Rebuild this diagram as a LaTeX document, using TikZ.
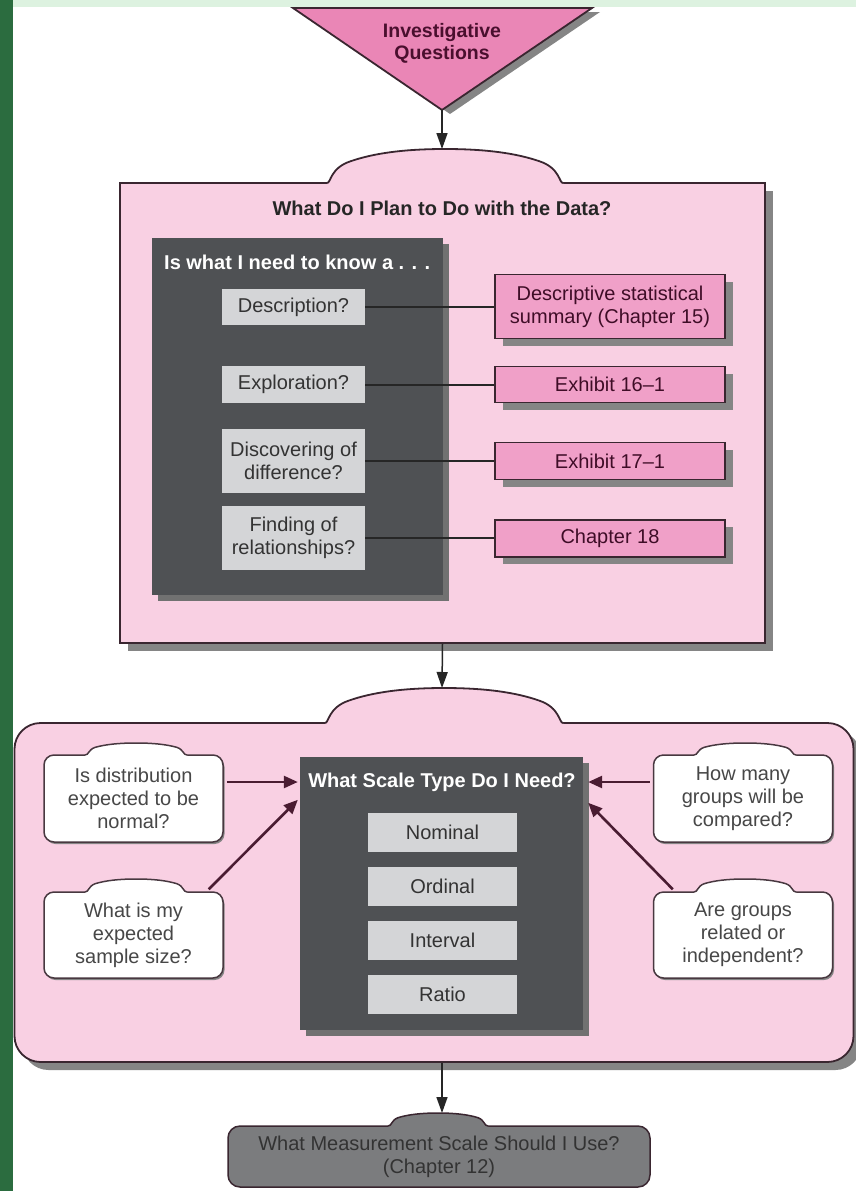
\documentclass[tikz,border=0pt]{standalone}
\usepackage{fontspec}
\setmainfont{Liberation Sans}
\usetikzlibrary{arrows.meta,shadows,calc}
\definecolor{lgreen}{HTML}{DDF2E0}
\definecolor{dgreen}{HTML}{2B6C3F}
\definecolor{tripink}{HTML}{EA86B6}
\definecolor{lpink}{HTML}{F9D0E3}
\definecolor{mpink}{HTML}{F0A0C8}
\definecolor{darkbox}{HTML}{4F5154}
\definecolor{lgray}{HTML}{D4D5D7}
\definecolor{bord}{HTML}{3A2630}
\definecolor{shadc}{HTML}{858585}
\definecolor{maroon}{HTML}{4A1C32}
\definecolor{botgray}{HTML}{7B7C7E}
\definecolor{txtdark}{HTML}{333333}
\definecolor{txtmar}{HTML}{4A0F2E}
% hump: [fill]{L}{R}{B}{T}
\newcommand\humppath[4]{({#1},{#3}) .. controls ({#1+4},{#3}) and ({#1+3},{#3-0.44*(#3-#4)}) .. ({#1+0.1*(#2-#1)},{#3-0.64*(#3-#4)}) .. controls ({#1+0.2*(#2-#1)},{#4+0.12*(#3-#4)}) and ({#1+0.33*(#2-#1)},{#4}) .. ({#1+0.5*(#2-#1)},{#4}) .. controls ({#2-0.33*(#2-#1)},{#4}) and ({#2-0.2*(#2-#1)},{#4+0.12*(#3-#4)}) .. ({#2-0.1*(#2-#1)},{#3-0.64*(#3-#4)}) .. controls ({#2-3},{#3-0.44*(#3-#4)}) and ({#2-4},{#3}) .. ({#2},{#3})}
\newcommand\hump[5][]{%
  \fill[#1] ({#2},{#4+1.4}) -- \humppath{#2}{#3}{#4}{#5} -- ({#3},{#4+1.4}) -- cycle;
  \draw[bordline] \humppath{#2}{#3}{#4}{#5};}
\begin{document}
\begin{tikzpicture}[x=1pt,y=-1pt,
  every node/.style={font=\fontsize{20}{23}\selectfont, align=center, inner sep=0pt},
  bordline/.style={draw=bord, line width=1.8pt},
  bigbox/.style={draw=bord, line width=1.8pt, fill=lpink, drop shadow={shadow xshift=8pt, shadow yshift=-8pt, fill=shadc, opacity=1}},
  darkb/.style={fill=darkbox, drop shadow={shadow xshift=6pt, shadow yshift=-6pt, fill=shadc!85!black, opacity=1}},
  qbox/.style={fill=lgray, text=txtdark, minimum width=143pt},
  pbox/.style={fill=mpink, draw=bord, line width=1.8pt, text=txtmar!85!black, minimum width=230pt, drop shadow={shadow xshift=8pt, shadow yshift=-7pt, fill=shadc, opacity=1}},
  sbox/.style={fill=lgray, text=txtdark, minimum width=149pt, minimum height=39pt},
  cloudb/.style={fill=white, draw=bord!80!gray, line width=1.5pt, rounded corners=10pt, minimum width=179pt, minimum height=87pt, text=black!72, drop shadow={shadow xshift=1.5pt, shadow yshift=-2pt, fill=shadc, opacity=1}},
  varr/.style={draw=black!85, line width=1.5pt, -{Triangle[length=16pt,width=11pt]}},
  sarr/.style={draw=maroon, line width=2.6pt, -{Triangle[length=14pt,width=12pt]}},
  link/.style={draw=black!85, line width=2pt},
  boldt/.style={font=\fontsize{20}{23}\selectfont\bfseries}
]
\useasboundingbox (0,0) rectangle (856,1191);
\fill[white] (0,0) rectangle (856,1191);

% triangle
\coordinate (apex) at (442,110);
\draw[bordline, fill=tripink, drop shadow={shadow xshift=8pt, shadow yshift=-4pt, fill=shadc, opacity=1}] (293,8) -- (592,8) -- (apex) -- cycle;
\node[font=\fontsize{19.5}{22}\selectfont\bfseries, text=txtmar] (iq) at (442,43) {Investigative\\Questions};

% box 1
\node[bigbox, minimum width=645pt, minimum height=460pt] (box1) at (442.5,413) {};
\hump[lpink]{327}{563}{183}{149}
\coordinate (b1top) at (442,149);
\draw[varr] (apex) -- (b1top);
\node[boldt, text=black!85] (t1) at (442,208) {What Do I Plan to Do with the Data?};
\node[darkb, minimum width=291pt, minimum height=357pt] (dark1) at (297.5,416.5) {};
\node[boldt, text=white, anchor=west] (know) at (164,262) {Is what I need to know a . . .};
\node[qbox, minimum height=36pt] (desc) at (293.5,307) {Description?};
\node[qbox, minimum height=37pt] (expl) at (293.5,384.5) {Exploration?};
\node[qbox, minimum height=64pt] (disc) at (293.5,460.5) {Discovering of\\difference?};
\node[qbox, minimum height=64pt] (find) at (293.5,538) {Finding of\\relationships?};
\node[pbox, minimum height=64pt] (p1) at (610,306.5) {Descriptive statistical\\summary (Chapter 15)};
\node[pbox, minimum height=36pt] (p2) at (610,384.5) {Exhibit 16–1};
\node[pbox, minimum height=37pt] (p3) at (610,461) {Exhibit 17–1};
\node[pbox, minimum height=37pt] (p4) at (610,538.5) {Chapter 18};
\draw[link] (desc.east) -- (desc.east -| p1.west);
\draw[link] (expl.east) -- (expl.east -| p2.west);
\draw[link] (disc.east) -- (disc.east -| p3.west);
\draw[link] (find.east) -- (find.east -| p4.west);

% box 2
\node[bigbox, rounded corners=26pt, minimum width=839pt, minimum height=339pt] (box2) at (434,892.5) {};
\hump[lpink]{325}{563}{723}{688}
\coordinate (b2top) at (442,688);
\draw[varr] (box1.south) -- (b2top);
\node[darkb, minimum width=283pt, minimum height=273pt] (dark2) at (441.5,893.5) {};
\node[boldt, text=white] (t2) at (442,782) {What Scale Type Do I Need?};
\node[sbox] (nom) at (442.5,832.5) {Nominal};
\node[sbox] (ord) at (442.5,886.5) {Ordinal};
\node[sbox] (int) at (442.5,940.5) {Interval};
\node[sbox] (rat) at (442.5,994.5) {Ratio};

\node[cloudb] (c1) at (133.5,798.5) {Is distribution\\expected to be\\normal?};
\node[cloudb, minimum height=86pt] (c2) at (133.5,935) {What is my\\expected\\sample size?};
\node[cloudb] (c3) at (743,798.5) {How many\\groups will be\\compared?};
\node[cloudb, minimum height=86pt] (c4) at (743,935) {Are groups\\related or\\independent?};
\tikzset{bordline/.style={draw=bord!80!gray, line width=1.5pt}}
\hump[white]{85}{187}{755}{743}
\hump[white]{85}{187}{892}{879}
\hump[white]{694}{796}{755}{743}
\hump[white]{694}{796}{892}{879}

\draw[sarr] ($(c1.east |- t2)+(3,0)$) -- ($(dark2.west |- t2)+(-2,0)$);
\draw[sarr] ($(c2.north east)+(-15,-2)$) -- ($(dark2.north west)+(-2,43)$);
\draw[sarr] ($(c3.west |- t2)+(-3,0)$) -- ($(dark2.east |- t2)+(5,0)$);
\draw[sarr] ($(c4.north west)+(20,-2)$) -- ($(dark2.north east)+(5,46)$);

% bottom node
\node[fill=botgray, draw=bord, line width=1.5pt, rounded corners=12pt, minimum width=422pt, minimum height=61pt, text=txtdark] (bot) at (439,1156.5) {What Measurement Scale Should I Use?\\(Chapter 12)};
\tikzset{bordline/.style={draw=bord, line width=1.5pt}}
\hump[botgray]{388}{488}{1126}{1113}
\coordinate (b3top) at (442,1113);
\draw[varr] (box2.south -| b3top) -- (b3top);

% page strips
\fill[lgreen] (0,0) rectangle (856,7);
\fill[dgreen] (0,0) rectangle (13,1191);
\end{tikzpicture}
\end{document}
